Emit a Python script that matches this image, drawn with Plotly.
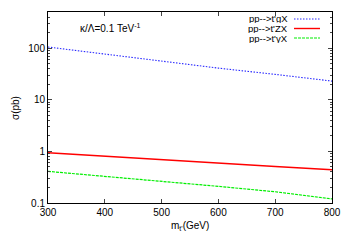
import plotly.graph_objects as go

mass = [300, 400, 500, 600, 700, 800]
sigma_tgX = [105, 76, 55, 41, 31, 23]
sigma_tZX = [0.94, 0.80, 0.69, 0.59, 0.51, 0.44]
sigma_tgamX = [0.41, 0.33, 0.265, 0.21, 0.165, 0.12]
series_names = ["pp-->t'gX", "pp-->t'ZX", "pp-->t'γX"]
colors = ["#2a2aff", "#ff0000", "#00ee00"]
dashes = ["1.5px,1.5px", "solid", "3px,1px"]
widths = [1.1, 1.4, 1.2]
x_ticks = [300, 400, 500, 600, 700, 800]
y_ticks = [0.1, 1, 10, 100]
y_tick_labels = ["0.1", "1", "10", "100"]

fig = go.Figure()
for ys, c, d, w, n in zip([sigma_tgX, sigma_tZX, sigma_tgamX], colors, dashes, widths, series_names):
    fig.add_trace(go.Scatter(x=mass, y=ys, mode="lines", name=n,
                             line=dict(color=c, dash=d, width=w), showlegend=False))

font = dict(family="Liberation Sans, Arial, sans-serif", size=10, color="black")
lfont = dict(family="Liberation Sans, Arial, sans-serif", size=9.5, color="black")

# page body margin offset (browser default 8px)
OFF = 8
PL, PR, PT, PB = 48, 332, 12, 203   # plot area in page pixels
W, H = 350 - OFF, 245 - OFF
L, T = PL - OFF, PT - OFF
R, B = W - (PR - OFF), H - (PB - OFF)
pw, ph = PR - PL, PB - PT

def px_x(p):
    return (p - PL) / pw

def px_y(p):
    return (PB - p) / ph

# manual legend (text left of sample, gnuplot style)
rows = [19, 28.5, 38]
for n, c, d, w, ry in zip(series_names, colors, dashes, widths, rows):
    fig.add_annotation(x=px_x(289), y=px_y(ry), xref="paper", yref="paper",
                       text=n, showarrow=False, xanchor="right", yanchor="middle",
                       height=9, borderpad=0, font=lfont)
    fig.add_shape(type="line", xref="paper", yref="paper",
                  x0=px_x(294), x1=px_x(320), y0=px_y(ry), y1=px_y(ry),
                  line=dict(color=c, dash=d, width=w))

fig.add_annotation(x=px_x(78), y=px_y(28), xref="paper", yref="paper",
                   text="κ/Λ=0.1 TeV<sup>-1</sup>", showarrow=False,
                   xanchor="left", yanchor="middle", font=font)

# axis titles
fig.add_annotation(x=px_x(15), y=px_y(108), xref="paper", yref="paper",
                   text="σ(pb)", textangle=-90, showarrow=False, borderpad=0,
                   xanchor="center", yanchor="middle", font=font)
fig.add_annotation(x=px_x(190), y=px_y(226), xref="paper", yref="paper",
                   text="m<sub>t'</sub>(GeV)", showarrow=False,
                   xanchor="center", yanchor="middle", font=font)

fig.update_layout(
    width=W, height=H,
    margin=dict(l=L, r=R, t=T, b=B, autoexpand=False),
    paper_bgcolor="white", plot_bgcolor="white",
    font=font,
    xaxis=dict(range=[300, 800], tickvals=x_ticks, ticks="inside", ticklen=4,
               showline=True, linecolor="black", linewidth=1, mirror="allticks",
               showgrid=False, zeroline=False, automargin=False),
    yaxis=dict(type="log", range=[-1, 2.7], tickvals=y_ticks, ticktext=y_tick_labels,
               ticks="inside", ticklen=4, showline=True, linecolor="black", linewidth=1,
               mirror="allticks", showgrid=False, zeroline=False, automargin=False,
               minor=dict(ticks="inside", ticklen=2, showgrid=False,
                          tickvals=[v * m for v in [0.1, 1, 10, 100] for m in range(2, 10)])),
)

fig.write_html("out.html")
